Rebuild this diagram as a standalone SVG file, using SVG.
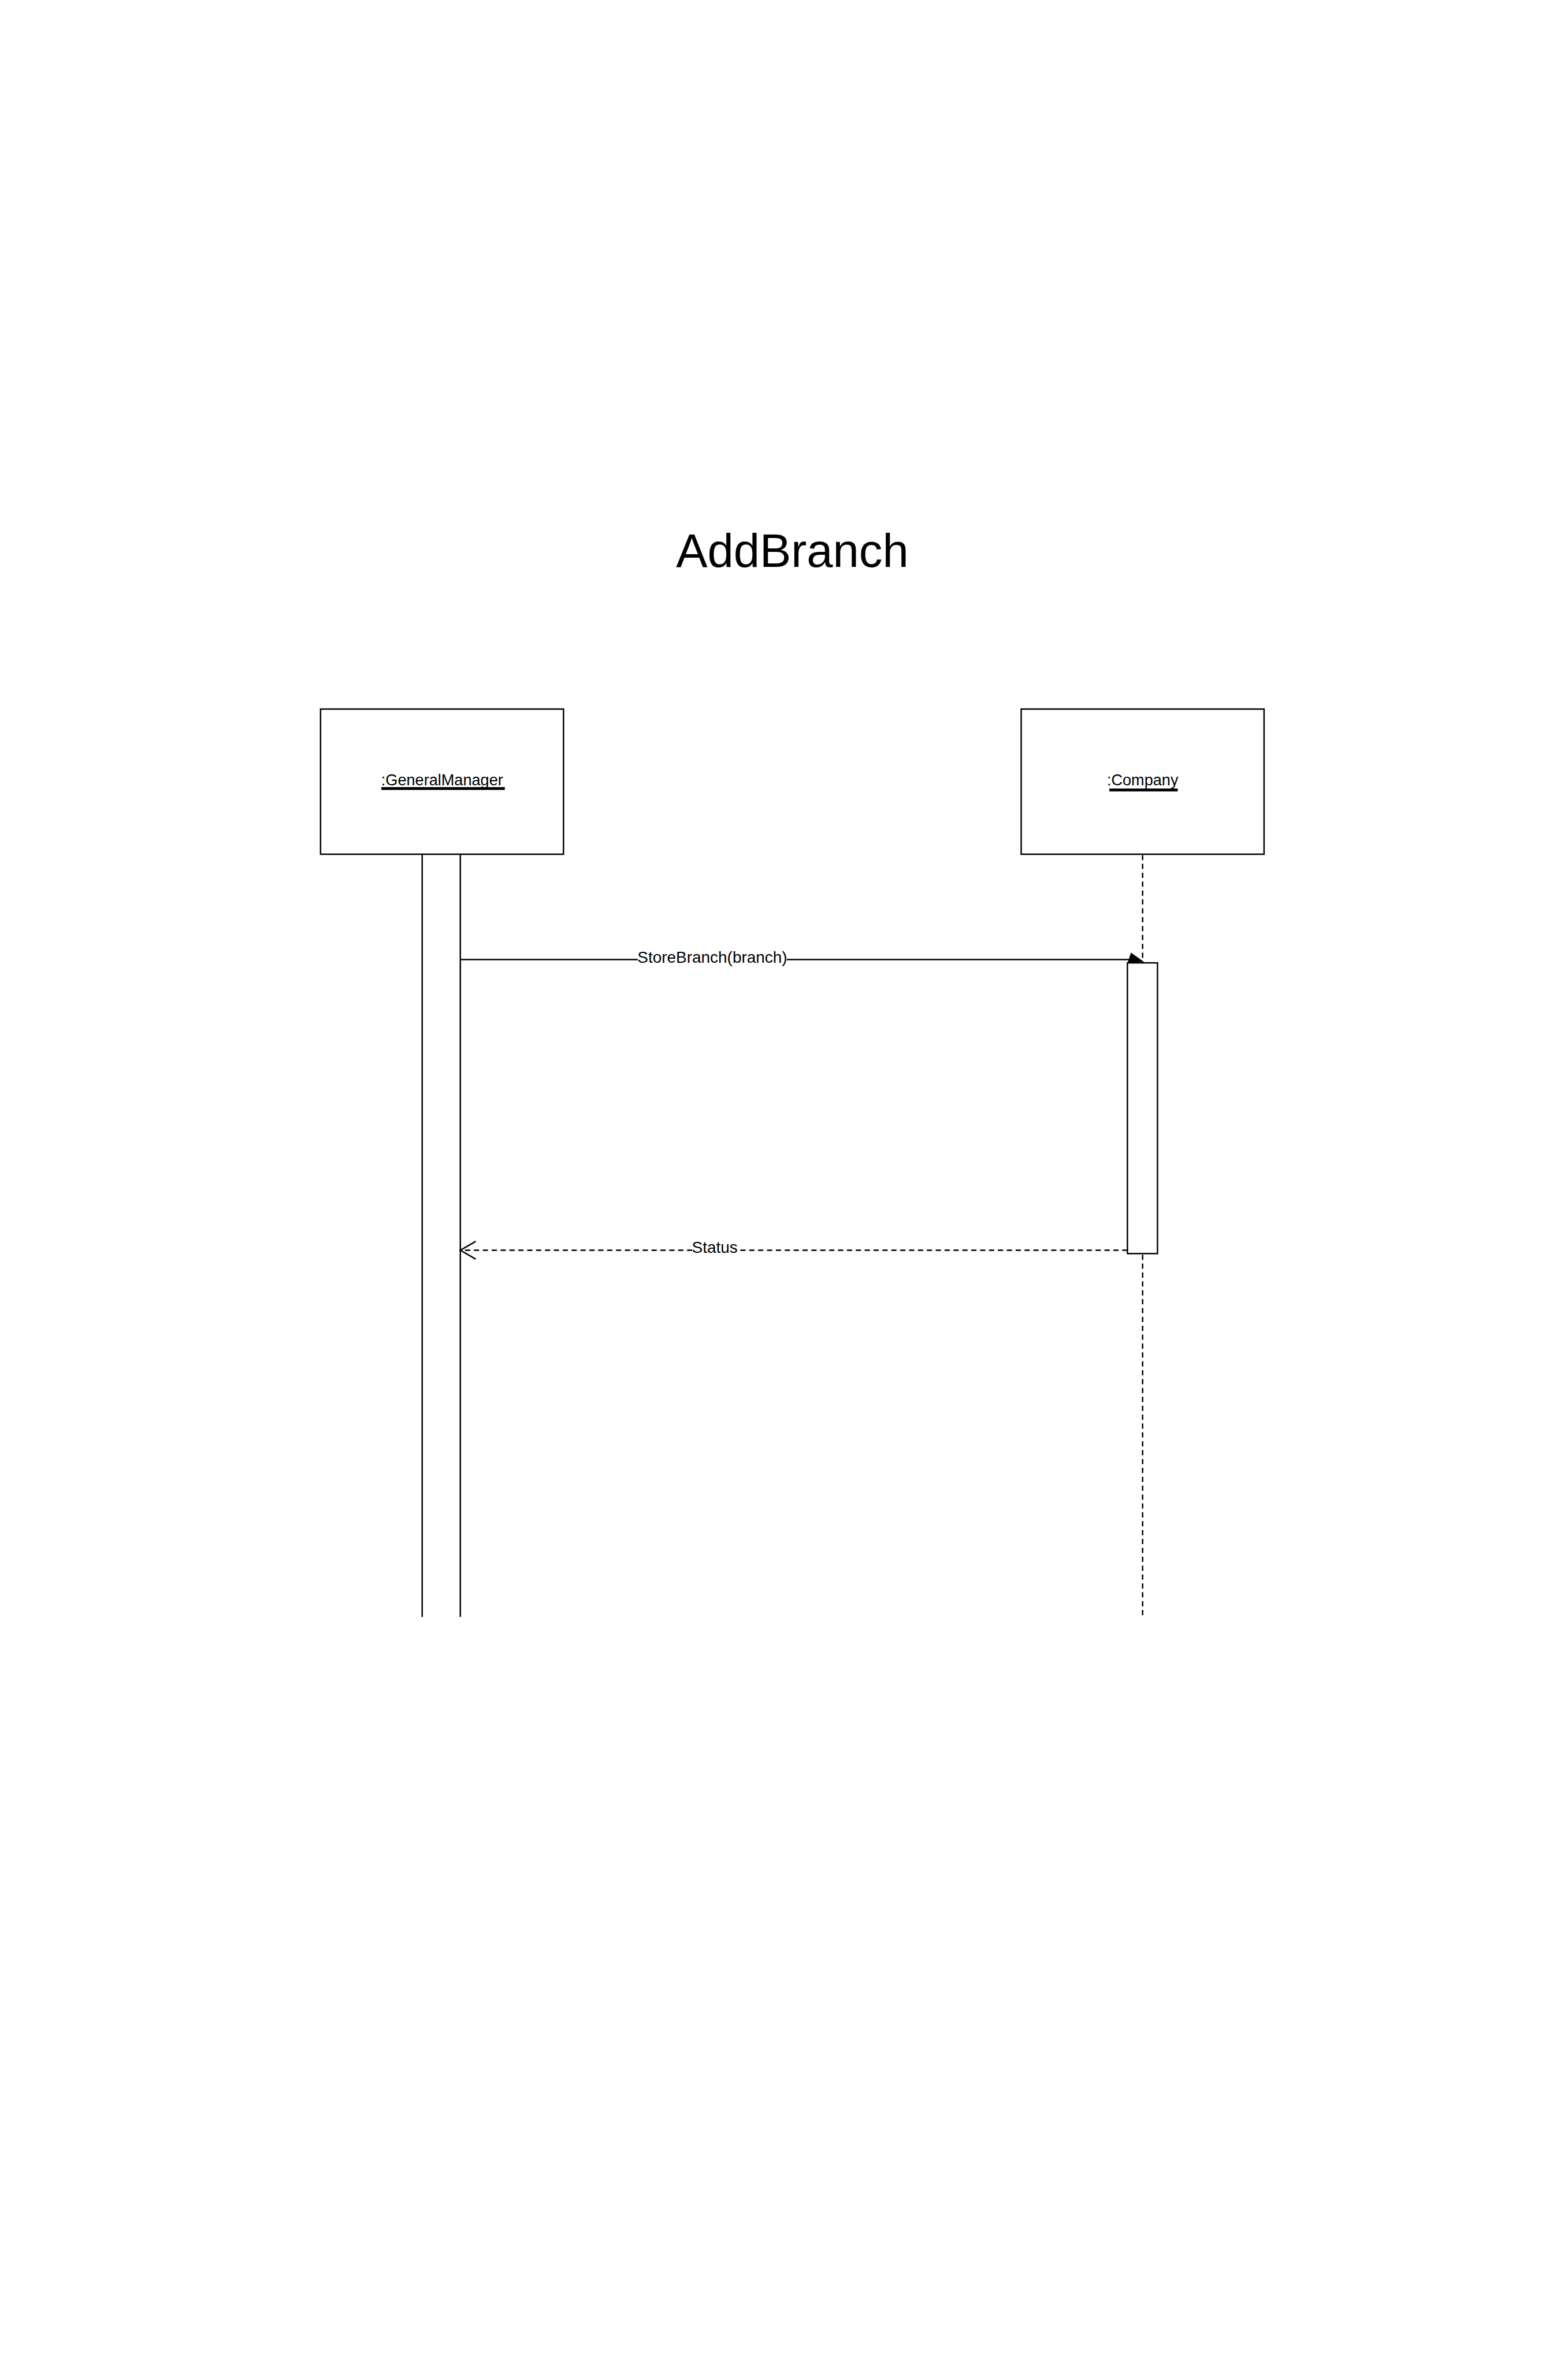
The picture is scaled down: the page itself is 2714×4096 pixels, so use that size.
<svg xmlns="http://www.w3.org/2000/svg" width="2714" height="4096" viewBox="0 0 2714 4096">
<style>
.box{fill:#fff;stroke:#000;stroke-width:3}
.ln{fill:none;stroke:#000;stroke-width:3}
.dash{fill:none;stroke:#000;stroke-width:3;stroke-dasharray:11 7.7}
.t{font-family:"Liberation Sans",Arial,Helvetica,sans-serif;fill:#000}
.lbl{font-size:33px;text-anchor:middle}
.elbl{font-size:34px;text-anchor:middle}
.bg{fill:#fff;stroke:none}
</style>
<rect width="2714" height="4096" fill="#fff"/>
<g transform="scale(0.822)">
  <g id="title">
    <text class="t" x="1668.5" y="1194" font-size="99" text-anchor="middle">AddBranch</text>
  </g>
  <g id="generalManager">
    <rect class="box" x="675" y="1492.7" width="511.5" height="305.6"/>
    <text class="t lbl" x="931" y="1653">:GeneralManager</text>
    <rect x="803" y="1657" width="260" height="6" fill="#000"/>
    <line class="ln" x1="889" y1="1798.3" x2="889" y2="3404"/>
    <line class="ln" x1="969.3" y1="1798.3" x2="969.3" y2="3404"/>
  </g>
  <g id="company">
    <rect class="box" x="2150.3" y="1492.7" width="511.4" height="305.6"/>
    <text class="t lbl" x="2406" y="1653">:Company</text>
    <rect x="2336" y="1660" width="144" height="6" fill="#000"/>
    <line class="dash" x1="2406" y1="1799.8" x2="2406" y2="3404"/>
  </g>
  <g id="connectors">
    <g id="msg-storeBranch">
      <line class="ln" x1="969.3" y1="2020" x2="2380" y2="2020"/>
      <rect class="bg" x="1343" y="2003" width="314" height="33"/>
      <text class="t elbl" x="1500" y="2027">StoreBranch(branch)</text>
    </g>
    <g id="msg-status">
      <line class="dash" x1="2374" y1="2632" x2="969.3" y2="2632"/>
      <rect class="bg" x="1458" y="2615" width="95" height="33"/>
      <text class="t elbl" x="1505" y="2638">Status</text>
      <polyline class="ln" points="1001.7,2613.3 969.5,2632 1001.7,2650.7"/>
    </g>
  </g>
  <g id="companyActivation">
    <rect class="box" x="2374" y="2027" width="63.3" height="612"/>
  </g>
  <polygon id="storeBranchHead" points="2376,2025 2382,2007 2406,2024" fill="#000" stroke="#000" stroke-width="2"/>
</g>
</svg>
